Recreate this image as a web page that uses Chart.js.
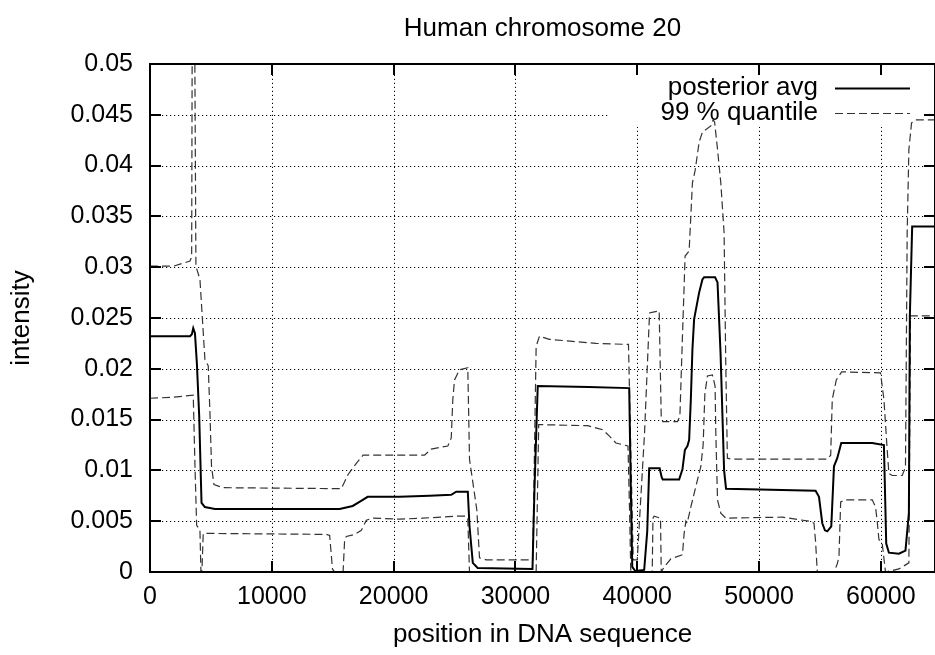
<!DOCTYPE html>
<html><head><meta charset="utf-8">
<script src="https://cdn.jsdelivr.net/npm/chart.js@4/dist/chart.umd.min.js"></script>
<style>html,body{margin:0;padding:0;background:#fff}canvas{display:block}</style>
</head><body>
<canvas id="c" width="935" height="655"></canvas>
<script>
// ---- data ----
const titleText = 'Human chromosome 20';
const xTitle = 'position in DNA sequence';
const yTitle = 'intensity';
const seriesNames = ['posterior avg', '99 % quantile'];
const xMax = 64444;
const yMax = 0.05;
const xTicks = [0, 10000, 20000, 30000, 40000, 50000, 60000];
const yTicks = [0, 0.005, 0.01, 0.015, 0.02, 0.025, 0.03, 0.035, 0.04, 0.045, 0.05];
const yTickLabels = ['0', '0.005', '0.01', '0.015', '0.02', '0.025', '0.03', '0.035', '0.04', '0.045', '0.05'];

const avgPos = [0,3280,3440,3550,3690,3850,4040,4230,4500,5330,10000,15570,16640,17200,17870,20490,22950,24730,25140,26090,26230,26500,26900,31400,31560,31830,36000,39340,39460,39590,39840,40570,40820,40980,41840,42010,42090,43440,43710,43910,44120,44260,44400,44530,44670,45080,45350,45490,46390,46590,46840,47130,47290,54640,54920,55190,55410,55600,55930,56150,56420,56750,59290,60250,60440,60660,61480,62020,62300,62380,62570,64444];
const avgVal = [0.0232,0.0232,0.0234,0.0240,0.0235,0.0205,0.0153,0.0068,0.0064,0.0062,0.0062,0.0062,0.0065,0.0069,0.0074,0.0074,0.0075,0.0076,0.0079,0.0079,0.0045,0.0009,0.0004,0.0003,0.0080,0.0183,0.0182,0.0181,0.0090,0.0005,0.0001,0.0002,0.0040,0.0102,0.0102,0.0093,0.0091,0.0091,0.0101,0.0120,0.0124,0.0130,0.0170,0.0219,0.0249,0.0275,0.0288,0.0290,0.0290,0.0285,0.0215,0.0100,0.0082,0.0080,0.0074,0.0048,0.0041,0.0040,0.0045,0.0104,0.0112,0.0127,0.0127,0.0125,0.0028,0.0019,0.0018,0.0021,0.0058,0.0252,0.0340,0.0340];

const upperPos = [0,1910,2730,3280,3420,3480,3640,3770,4100,4510,4780,4920,5050,5250,6010,15710,16260,16940,17490,22540,23090,24450,24730,24860,25000,25410,26090,26230,26830,27050,27600,31420,31700,31970,32790,34700,36610,39280,39470,39670,40000,40600,41010,41390,41800,41970,42090,43300,43500,43720,43930,44260,44530,44750,45080,45350,46040,46230,46350,46590,46860,47130,47270,47400,47810,55600,55880,56010,56340,56780,59970,60250,60520,60660,60930,61750,62020,62160,62300,62520,62840,64444];
const upperVal = [0.0301,0.0301,0.0304,0.0306,0.0310,0.0600,0.0600,0.0301,0.0288,0.0209,0.0203,0.0157,0.0104,0.0086,0.0083,0.0082,0.0096,0.0107,0.0115,0.0115,0.0121,0.0124,0.0132,0.0170,0.0189,0.0199,0.0201,0.0111,0.0061,0.0014,0.0012,0.0012,0.0222,0.0232,0.0229,0.0227,0.0225,0.0224,0.0120,0.0012,0.0012,0.0137,0.0255,0.0256,0.0257,0.0152,0.0148,0.0148,0.0153,0.0235,0.0311,0.0316,0.0383,0.0395,0.0423,0.0433,0.0439,0.0445,0.0443,0.0416,0.0383,0.0334,0.0203,0.0112,0.0111,0.0111,0.0115,0.0170,0.0189,0.0197,0.0196,0.0170,0.0120,0.0097,0.0095,0.0095,0.0103,0.0334,0.0416,0.0442,0.0445,0.0445];

const lowerPos = [0,1910,3550,3690,3830,4100,4180,4260,4370,4640,14480,14750,14980,15160,15850,15980,16120,16800,17350,17760,18300,20490,22400,25140,25960,26090,26230,31700,31910,32240,35930,37160,37700,38250,39240,39370,39470,41230,41290,41390,41910,41970,42210,42760,43710,43850,43990,44100,44400,44810,45220,45410,45550,45760,46170,46390,46450,46590,46860,47270,51910,54100,54510,54640,54780,56150,56420,56560,56700,57110,59290,59560,59700,59840,60110,60380,61480,62300,62430,64444];
const lowerVal = [0.0171,0.0172,0.0174,0.0105,0.0046,0.0041,0,0,0.0038,0.0038,0.0037,0.0036,0.0003,0,0,0.0032,0.0035,0.0037,0.0041,0.0051,0.0053,0.0052,0.0053,0.0055,0.0055,0.0052,0,0,0.0145,0.0145,0.0144,0.0140,0.0134,0.0127,0.0124,0.0060,0,0,0.0053,0.0055,0.0053,0,0.0005,0.0013,0.0017,0.0038,0.0050,0.0048,0.0064,0.0084,0.0104,0.0125,0.0175,0.0193,0.0194,0.0183,0.0137,0.0071,0.0058,0.0053,0.0054,0.0050,0.0048,0.0030,0,0,0.0008,0.0015,0.0069,0.0071,0.0071,0.0064,0.0050,0.0032,0.0028,0,0.0003,0.0009,0.0252,0.0252];

// ---- chart ----
const FONT = "'Liberation Sans', Arial, Helvetica, sans-serif";
const FS = 26;
const TFS = 25;
const DASH = [8, 4];
const toPts = (xs, ys) => xs.map((v, i) => ({x: v, y: ys[i]}));

const gnuFrame = {
  id: 'gnuFrame',
  beforeDatasetsDraw(chart) {
    const {ctx, chartArea: a, scales: {x, y}} = chart;
    ctx.save();
    ctx.strokeStyle = '#000';
    ctx.lineWidth = 1;
    ctx.setLineDash([1.2, 2.8]);
    ctx.beginPath();
    x.ticks.forEach(t => {
      const px = Math.round(x.getPixelForValue(t.value)) + 0.5;
      if (px <= a.left + 2 || px >= a.right - 2) return;
      ctx.moveTo(px, a.bottom); ctx.lineTo(px, a.top);
    });
    y.ticks.forEach(t => {
      const py = Math.round(y.getPixelForValue(t.value)) + 0.5;
      if (py <= a.top + 2 || py >= a.bottom - 2) return;
      ctx.moveTo(a.left, py); ctx.lineTo(a.right, py);
    });
    ctx.stroke();
    ctx.setLineDash([]);
    // key area (opaque against grid)
    ctx.fillStyle = '#fff';
    ctx.fillRect(a.right - 327, a.top + 1, 327, 62);
    ctx.restore();
  },
  afterDatasetsDraw(chart) {
    const {ctx, chartArea: a, scales: {x, y}} = chart;
    ctx.save();
    ctx.strokeStyle = '#000';
    ctx.lineWidth = 2;
    ctx.strokeRect(a.left, a.top, a.right - a.left, a.bottom - a.top);
    const TL = 11;
    ctx.beginPath();
    x.ticks.forEach(t => {
      const px = Math.round(x.getPixelForValue(t.value));
      ctx.moveTo(px, a.bottom); ctx.lineTo(px, a.bottom - TL);
      ctx.moveTo(px, a.top); ctx.lineTo(px, a.top + TL);
    });
    y.ticks.forEach(t => {
      const py = Math.round(y.getPixelForValue(t.value));
      ctx.moveTo(a.left, py); ctx.lineTo(a.left + TL, py);
      ctx.moveTo(a.right, py); ctx.lineTo(a.right - TL, py);
    });
    ctx.stroke();
    // key
    ctx.font = FS + 'px ' + FONT;
    ctx.fillStyle = '#000';
    ctx.textAlign = 'right';
    ctx.textBaseline = 'middle';
    const tx = a.right - 117, s0 = a.right - 100, s1 = a.right - 25;
    const r1 = a.top + 24, r2 = a.top + 49;
    ctx.fillText(seriesNames[0], tx, r1);
    ctx.fillText(seriesNames[1], tx, r2);
    ctx.lineWidth = 2;
    ctx.beginPath(); ctx.moveTo(s0, r1 + 0.5); ctx.lineTo(s1, r1 + 0.5); ctx.stroke();
    ctx.lineWidth = 1.2; ctx.strokeStyle = '#333'; ctx.setLineDash(DASH);
    ctx.beginPath(); ctx.moveTo(s0, r2 + 0.5); ctx.lineTo(s1, r2 + 0.5); ctx.stroke();
    ctx.restore();
  }
};

new Chart(document.getElementById('c'), {
  type: 'line',
  data: {
    datasets: [
      {label: seriesNames[0], data: toPts(avgPos, avgVal), borderColor: '#000', borderWidth: 2, pointRadius: 0, tension: 0, fill: false},
      {label: seriesNames[1], data: toPts(upperPos, upperVal), borderColor: '#333', borderWidth: 1.2, borderDash: DASH, pointRadius: 0, tension: 0, fill: false},
      {label: seriesNames[1] + ' (low)', data: toPts(lowerPos, lowerVal), borderColor: '#333', borderWidth: 1.2, borderDash: DASH, pointRadius: 0, tension: 0, fill: false}
    ]
  },
  options: {
    responsive: false,
    animation: false,
    devicePixelRatio: 1,
    layout: {padding: 0},
    plugins: {
      legend: {display: false},
      tooltip: {enabled: false},
      title: {display: true, fullSize: false, text: titleText, color: '#000', font: {family: FONT, size: FS, weight: 'normal', lineHeight: 1.2}, padding: {top: 13, bottom: 19.8}}
    },
    scales: {
      x: {
        type: 'linear', min: 0, max: xMax,
        grid: {display: false, drawTicks: false},
        border: {display: false},
        afterBuildTicks: s => { s.ticks = xTicks.map(v => ({value: v})); },
        ticks: {autoSkip: false, maxRotation: 0, padding: 10, color: '#000', font: {family: FONT, size: TFS}, callback: v => String(v)},
        title: {display: true, text: xTitle, color: '#000', font: {family: FONT, size: FS, lineHeight: 1.2}, padding: {top: 0, bottom: 4.4}},
        afterFit: s => { s.height = 83; }
      },
      y: {
        type: 'linear', min: 0, max: yMax,
        grid: {display: false, drawTicks: false},
        border: {display: false},
        afterBuildTicks: s => { s.ticks = yTicks.map(v => ({value: v})); },
        ticks: {autoSkip: false, padding: 17, color: '#000', font: {family: FONT, size: TFS}, callback: (v, i) => yTickLabels[i]},
        title: {display: true, text: yTitle, color: '#000', font: {family: FONT, size: FS, lineHeight: 1.2}, padding: {top: 6.4, bottom: 0}},
        afterFit: s => { s.width = 150; }
      }
    }
  },
  plugins: [gnuFrame]
});
</script>
</body></html>
